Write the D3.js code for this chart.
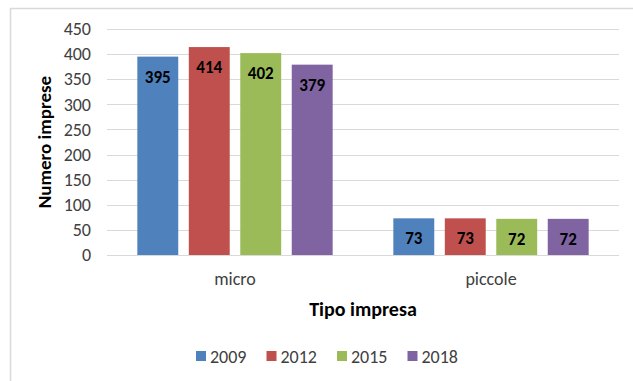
<!DOCTYPE html>
<html>
<head>
<meta charset="utf-8">
<script src="https://cdn.jsdelivr.net/npm/d3@7"></script>
<style>
  html, body { margin: 0; padding: 0; background: #fff; }
  svg { display: block; font-family: Calibri, Carlito, Lato, "Open Sans", sans-serif; }
</style>
</head>
<body>
<svg id="chart" width="633" height="381"></svg>
<script>
// Number of firms by type and survey year
const categories = ["micro", "piccole"];
const years = ["2009", "2012", "2015", "2018"];
const values2009 = [395, 73];
const values2012 = [414, 73];
const values2015 = [402, 72];
const values2018 = [379, 72];
const yTicks = [0, 50, 100, 150, 200, 250, 300, 350, 400, 450];
const colors = ["#4F81BD", "#C0504D", "#9BBB59", "#8064A2"];

const seriesValues = [values2009, values2012, values2015, values2018];
const data = categories.map((c, i) => ({
  category: c,
  bars: years.map((y, j) => ({ year: y, value: seriesValues[j][i] }))
}));

const svg = d3.select("#chart");
const W = 633, H = 381;
const plot = { left: 107, right: 619, top: 29, bottom: 255 };

// chart frame
svg.append("path")
  .attr("d", `M10.5,${H} V8.5 H${W}`)
  .attr("fill", "none")
  .attr("stroke", "#d9d9d9")
  .attr("stroke-width", 1.5);

const y = d3.scaleLinear().domain([0, 450]).range([plot.bottom, plot.top]);
const x0 = d3.scaleBand().domain(categories).range([plot.left, plot.right]).paddingInner(0).paddingOuter(0);
const groupW = x0.bandwidth() * 0.763;
const x1 = d3.scaleBand().domain(years).range([0, groupW]).paddingInner(0.205).paddingOuter(0);

// gridlines
svg.append("g")
  .selectAll("line")
  .data(yTicks)
  .join("line")
  .attr("x1", plot.left)
  .attr("x2", plot.right)
  .attr("y1", d => Math.round(y(d)) + 0.5)
  .attr("y2", d => Math.round(y(d)) + 0.5)
  .attr("stroke", "#d9d9d9")
  .attr("stroke-width", 1);

// y axis labels
const yAxis = d3.axisLeft(y).tickValues(yTicks).tickSize(0).tickPadding(0);
const gy = svg.append("g").attr("transform", `translate(${plot.left - 16},0)`).call(yAxis);
gy.select(".domain").remove();
gy.selectAll("text")
  .attr("font-size", 18)
  .attr("fill", "#404040")
  .attr("font-family", "Calibri, Carlito, Lato, sans-serif");

// bars
const groups = svg.append("g")
  .selectAll("g")
  .data(data)
  .join("g")
  .attr("transform", d => `translate(${x0(d.category) + (x0.bandwidth() - groupW) / 2},0)`);

groups.selectAll("rect")
  .data(d => d.bars)
  .join("rect")
  .attr("x", d => x1(d.year))
  .attr("y", d => y(d.value))
  .attr("width", x1.bandwidth())
  .attr("height", d => y(0) - y(d.value))
  .attr("fill", (d, i) => colors[i]);

// value labels inside the top of each bar
groups.selectAll("text")
  .data(d => d.bars)
  .join("text")
  .attr("x", d => x1(d.year) + x1.bandwidth() / 2)
  .attr("y", d => y(d.value) + 26)
  .attr("text-anchor", "middle")
  .attr("font-size", 17)
  .attr("font-weight", "bold")
  .attr("fill", "#000")
  .text(d => d.value);

// category labels
const xAxis = d3.axisBottom(x0).tickSize(0).tickPadding(0);
const gx = svg.append("g").attr("transform", `translate(0,${plot.bottom + 17})`).call(xAxis);
gx.select(".domain").remove();
gx.selectAll("text")
  .attr("font-size", 18)
  .attr("fill", "#404040")
  .attr("font-family", "Calibri, Carlito, Lato, sans-serif");

// axis titles
svg.append("text")
  .attr("x", (plot.left + plot.right) / 2)
  .attr("y", 316)
  .attr("text-anchor", "middle")
  .attr("font-size", 20)
  .attr("font-weight", "bold")
  .attr("fill", "#000")
  .text("Tipo impresa");

svg.append("text")
  .attr("transform", `translate(51,142) rotate(-90)`)
  .attr("text-anchor", "middle")
  .attr("font-size", 19)
  .attr("font-weight", "bold")
  .attr("fill", "#000")
  .text("Numero imprese");

// legend
const legend = svg.append("g").attr("transform", "translate(196,356)");
let lx = 0;
years.forEach((yr, i) => {
  const g = legend.append("g").attr("transform", `translate(${lx},0)`);
  g.append("rect").attr("x", 0).attr("y", -5).attr("width", 10).attr("height", 10).attr("fill", colors[i]);
  const t = g.append("text")
    .attr("x", 14)
    .attr("y", 6.5)
    .attr("font-size", 18)
    .attr("fill", "#404040")
    .text(yr);
  lx += 14 + t.node().getComputedTextLength() + 20;
});
</script>
</body>
</html>
